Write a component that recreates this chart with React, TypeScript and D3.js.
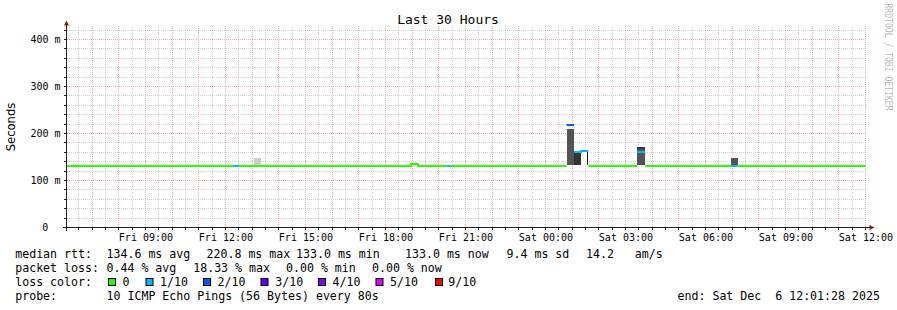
import React from "react";
import * as d3 from "d3";

const W = 897;
const H = 310;

const parse = d3.timeParse("%Y-%m-%d %H:%M:%S");
const startTime = "2025-12-05 06:01:28";
const endTime = "2025-12-06 12:01:28";

const title = "Last 30 Hours";
const yTitle = "Seconds";
const watermark = "RRDTOOL / TOBI OETIKER";

// median rtt as steps: breakpoints (n+1), median in ms (n), lost pings out of 10 (n)
const medianBreaks = [
  "2025-12-05 06:01:28",
  "2025-12-05 12:17:00",
  "2025-12-05 12:30:00",
  "2025-12-05 18:57:00",
  "2025-12-05 19:13:00",
  "2025-12-05 20:17:00",
  "2025-12-05 20:25:00",
  "2025-12-06 00:47:00",
  "2025-12-06 01:04:00",
  "2025-12-06 01:19:00",
  "2025-12-06 01:36:00",
  "2025-12-06 03:26:00",
  "2025-12-06 03:44:00",
  "2025-12-06 06:57:00",
  "2025-12-06 07:12:00",
  "2025-12-06 12:00:00",
];
const medianRtt = [133, 133, 133, 137, 133, 133, 133, 221, 163, 165.5, 133, 163, 133, 133, 133];
const medianLoss = [0, 1, 0, 0, 0, 1, 0, 2, 1, 1, 0, 1, 0, 1, 0];

// smoke (ping spread) bins: from, to, low ms, high ms, density (0..1)
const smokeFrom = [
  "2025-12-05 13:04:00",
  "2025-12-06 00:47:00",
  "2025-12-06 00:49:00",
  "2025-12-06 00:49:00",
  "2025-12-06 01:04:00",
  "2025-12-06 01:19:00",
  "2025-12-06 01:34:00",
  "2025-12-06 03:26:00",
  "2025-12-06 03:26:00",
  "2025-12-06 06:57:00",
];
const smokeTo = [
  "2025-12-05 13:20:00",
  "2025-12-06 00:49:00",
  "2025-12-06 01:04:00",
  "2025-12-06 01:04:00",
  "2025-12-06 01:19:00",
  "2025-12-06 01:34:00",
  "2025-12-06 01:36:00",
  "2025-12-06 03:44:00",
  "2025-12-06 03:44:00",
  "2025-12-06 07:12:00",
];
const smokeLo = [133, 133, 133, 210, 133, 133, 133, 133, 167, 133];
const smokeHi = [148, 221, 210, 219, 160, 160, 160, 167, 171, 147];
const smokeDensity = [0.2, 0.9, 0.67, 0.03, 0.8, 0.0, 0.9, 0.67, 0.8, 0.67];

const yTickValues = [0, 0.1, 0.2, 0.3, 0.4];
const yTickLabels = ["0", "100 m", "200 m", "300 m", "400 m"];

const lossLabels = ["0", "1/10", "2/10", "3/10", "4/10", "5/10", "9/10"];
const lossColors = ["#26ff00", "#00b8ff", "#0059ff", "#5e00ff", "#7e00ff", "#dd00ff", "#ff0000"];

const rttLabel = "median rtt:";
const rttStats = ["134.6 ms avg", "220.8 ms max", "133.0 ms min", "133.0 ms now", "9.4 ms sd", "14.2   am/s"];
const lossLabel = "packet loss:";
const lossStats = ["0.44 % avg", "18.33 % max", "0.00 % min", "0.00 % now"];
const colorLabel = "loss color:";
const probeLabel = "probe:";
const probeText = "10 ICMP Echo Pings (56 Bytes) every 80s";
const endText = "end: Sat Dec  6 12:01:28 2025";

export default function App() {
  const t0 = parse(startTime)!;
  const t1 = parse(endTime)!;
  const x = d3.scaleTime().domain([t0, t1]).range([66.3, 866.3]);
  const y = d3.scaleLinear().domain([0, 0.4]).range([227.5, 39.5]);
  const shade = d3.scaleLinear<string>().domain([0, 1]).range(["#ffffff", "#000000"]);

  const left = 66.5;
  const right = 866.5;
  const top = 26;
  const bottom = 227.5;
  const snap = (v: number) => Math.floor(v) + 0.5;

  const hours = d3.timeHour.range(t0, t1);
  const halfHours = d3.timeMinute.every(30)!.range(t0, t1).filter((d) => d.getMinutes() === 30);
  const labelHours = d3.timeHour.every(3)!.range(t0, t1);
  const fmt = d3.timeFormat("%a %H:%M");

  const minorY = d3.range(1, 22).map((i) => i * 0.02).filter((v) => Math.abs(v * 10 - Math.round(v * 10)) > 1e-6);
  const majorY = [0.1, 0.2, 0.3, 0.4];

  const grid = "rgba(143,143,143,0.42)";
  const mgrid = "rgba(222,80,80,0.45)";
  const mono = "DejaVu Sans Mono";

  // median line paths per loss level
  const breaks = medianBreaks.map((s) => parse(s)!);
  type P = { t: Date; v: number; def: boolean };
  const lineGen = d3
    .line<P>()
    .defined((d) => d.def)
    .x((d) => x(d.t))
    .y((d) => Math.round(y(d.v / 1000)) + 1);
  const levels = Array.from(new Set(medianLoss));
  const medianPaths = levels.map((L) => {
    const pts: P[] = [];
    medianRtt.forEach((v, i) => {
      const def = medianLoss[i] === L;
      pts.push({ t: breaks[i], v, def });
      pts.push({ t: breaks[i + 1], v, def });
    });
    return { L, d: lineGen(pts) || "" };
  });

  const rttX = [106.5, 206.5, 296, 405, 506.5, 586];
  const lossX = [106.5, 193.2, 286, 372];
  const boxX = [108.5, 146, 203.5, 261, 318.5, 376, 435.5];
  const boxLabelX = [122.5, 160, 217.5, 275.2, 332.5, 390, 448.3];

  const textStyle: React.CSSProperties = { whiteSpace: "pre" };

  return (
    <svg width={W} height={H} viewBox={`0 0 ${W} ${H}`} style={{ display: "block", position: "absolute", left: 0, top: 0, background: "#fff" }}>
      <rect x={0} y={0} width={W} height={H} fill="#ffffff" />

      {/* minor grid */}
      <g stroke={grid} strokeWidth={1} strokeDasharray="1,1" shapeRendering="crispEdges">
        {halfHours.map((d, i) => (
          <line key={"mx" + i} x1={snap(x(d))} x2={snap(x(d))} y1={top} y2={bottom} />
        ))}
        {minorY.map((v, i) => (
          <line key={"my" + i} x1={left} x2={right} y1={snap(y(v))} y2={snap(y(v))} />
        ))}
      </g>
      {/* major grid */}
      <g stroke={mgrid} strokeWidth={1} strokeDasharray="1,1" shapeRendering="crispEdges">
        {hours.map((d, i) => (
          <line key={"Mx" + i} x1={snap(x(d))} x2={snap(x(d))} y1={top} y2={bottom} />
        ))}
        {majorY.map((v, i) => (
          <line key={"My" + i} x1={left} x2={right} y1={snap(y(v))} y2={snap(y(v))} />
        ))}
      </g>

      {/* smoke */}
      <g shapeRendering="crispEdges">
        {smokeFrom.map((s, i) => {
          const xa = x(parse(s)!);
          const xb = x(parse(smokeTo[i])!);
          const ya = y(smokeHi[i] / 1000);
          const yb = y(smokeLo[i] / 1000);
          return <rect key={"s" + i} x={xa} y={ya} width={xb - xa} height={yb - ya} fill={shade(smokeDensity[i])} />;
        })}
      </g>

      {/* median */}
      <g fill="none" strokeWidth={2}>
        {medianPaths.map((p) => (
          <path key={"m" + p.L} d={p.d} stroke={lossColors[Math.min(p.L, 6)]} />
        ))}
      </g>

      {/* axes */}
      <g stroke="#1f1f1f" strokeWidth={1} shapeRendering="crispEdges">
        <line x1={left} x2={left} y1={231} y2={25} />
        <line x1={63} x2={870} y1={bottom} y2={bottom} />
        {minorY.concat(majorY).map((v, i) => (
          <line key={"yt" + i} x1={64} x2={left} y1={snap(y(v))} y2={snap(y(v))} />
        ))}
        {halfHours.concat(hours).map((d, i) => (
          <line key={"xt" + i} x1={snap(x(d))} x2={snap(x(d))} y1={bottom} y2={bottom + 2} />
        ))}
      </g>
      <polygon points={`${left - 2.5},25.5 ${left + 2.5},25.5 ${left},20.5`} fill="#801f1f" />
      <polygon points={`869.5,225 869.5,230 874.5,227.5`} fill="#801f1f" />

      {/* y labels */}
      <g fontFamily={mono} fontSize={10} fill="#000" textAnchor="end">
        {yTickValues.map((v, i) => (
          <text key={"yl" + i} x={v === 0 ? 48.2 : 60.5} y={y(v) + 3.5}>
            {yTickLabels[i]}
          </text>
        ))}
      </g>
      {/* x labels */}
      <g fontFamily={mono} fontSize={10} fill="#000" textAnchor="middle">
        {labelHours.map((d, i) => (
          <text key={"xl" + i} x={x(d) + 0.3} y={241}>
            {fmt(d)}
          </text>
        ))}
      </g>

      {/* title */}
      <text x={448} y={23.5} fontFamily={mono} fontSize={13} textAnchor="middle" fill="#000">
        {title}
      </text>
      <text
        transform="translate(15.3,127) rotate(-90)"
        fontFamily="DejaVu Sans"
        fontSize={11.6}
        textAnchor="middle"
        fill="#000"
      >
        {yTitle}
      </text>
      <text
        transform="translate(884.5,3.5) rotate(90)"
        fontFamily={mono}
        fontSize={10.5}
        textLength={107}
        lengthAdjust="spacingAndGlyphs"
        fill="#000"
        fillOpacity={0.3}
        style={textStyle}
      >
        {watermark}
      </text>

      {/* legend */}
      <g fontFamily={mono} fontSize={11.6} fill="#000" style={textStyle}>
        <text x={15.2} y={257.5} style={textStyle}>{rttLabel}</text>
        {rttStats.map((s, i) => (
          <text key={"r" + i} x={rttX[i]} y={257.5} style={textStyle}>
            {s}
          </text>
        ))}
        <text x={15.2} y={271.5} style={textStyle}>{lossLabel}</text>
        {lossStats.map((s, i) => (
          <text key={"l" + i} x={lossX[i]} y={271.5} style={textStyle}>
            {s}
          </text>
        ))}
        <text x={15.2} y={285.5} style={textStyle}>{colorLabel}</text>
        {lossLabels.map((s, i) => (
          <g key={"c" + i}>
            <rect x={boxX[i]} y={278.5} width={7} height={7} fill={lossColors[i]} stroke="#000" strokeWidth={1} />
            <text x={boxLabelX[i]} y={285.5} style={textStyle}>
              {s}
            </text>
          </g>
        ))}
        <text x={15.2} y={299.5} style={textStyle}>{probeLabel}</text>
        <text x={106.5} y={299.5} style={textStyle}>{probeText}</text>
        <text x={677.5} y={299.5} style={textStyle}>{endText}</text>
      </g>
    </svg>
  );
}
